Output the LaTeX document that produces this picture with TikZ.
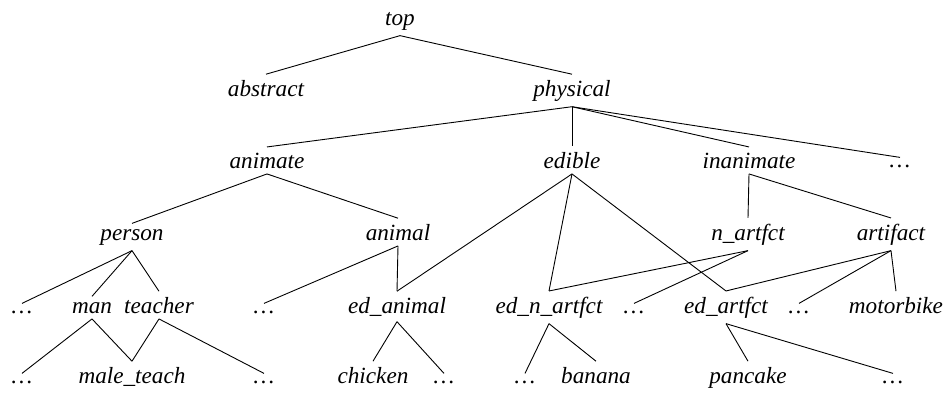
\documentclass[tikz,border=0pt]{standalone}
\usepackage{fontspec}
\setmainfont{Liberation Serif}
\begin{document}
\begin{tikzpicture}[x=1pt,y=-1pt,
  w/.style={font=\fontsize{23.2}{28}\selectfont\itshape, anchor=base, inner sep=5.5pt},
  d/.style={w, inner ysep=7pt},
  edge/.style={line width=0.9pt}]
\useasboundingbox (0,0) rectangle (946,392);
% row 0
\node[w] (top) at (400,25) {top};
% row 1
\node[w] (abstract) at (266,96) {abstract};
\node[w] (physical) at (572,96) {physical};
% row 2
\node[w] (animate) at (267,168) {animate};
\node[w] (edible) at (572,168) {edible};
\node[w] (inanimate) at (749,168) {inanimate};
\node[d] (d1) at (900,167) {…};
% row 3
\node[w] (person) at (132,240) {person};
\node[w] (animal) at (398,240) {animal};
\node[w] (nartfct) at (748,240) {n\_artfct};
\node[w] (artifact) at (891,240) {artifact};
% row 4
\node[d] (dA) at (22,313) {…};
\node[w] (man) at (92,313) {man};
\node[w] (teacher) at (159,313) {teacher};
\node[d] (dB) at (264,313) {…};
\node[w] (edanimal) at (397,313) {ed\_animal};
\node[w] (ednartfct) at (549,313) {ed\_n\_artfct};
\node[d] (dC) at (634,313) {…};
\node[w] (edartfct) at (726,313) {ed\_artfct};
\node[d] (dD) at (799,313) {…};
\node[w] (motorbike) at (896,313) {motorbike};
% row 5
\node[d] (dE) at (22,383) {…};
\node[w] (maleteach) at (132,383) {male\_teach};
\node[d] (dF) at (264,383) {…};
\node[w] (chicken) at (373,383) {chicken};
\node[d] (dG) at (444,383) {…};
\node[d] (dH) at (525,383) {…};
\node[w] (banana) at (596,383) {banana};
\node[w] (pancake) at (748,383) {pancake};
\node[d] (dI) at (893,383) {…};
% edges
\draw[edge] (top.south) -- (abstract.north);
\draw[edge] (top.south) -- (physical.north);
\draw[edge] (physical.south) -- (animate.north);
\draw[edge] (physical.south) -- (edible.north);
\draw[edge] (physical.south) -- (inanimate.north);
\draw[edge] (physical.south) -- (d1.north);
\draw[edge] (animate.south) -- (person.north);
\draw[edge] (animate.south) -- (animal.north);
\draw[edge] (edible.south) -- (edanimal.north);
\draw[edge] (edible.south) -- (ednartfct.north);
\draw[edge] (edible.south) -- (edartfct.north);
\draw[edge] (inanimate.south) -- (nartfct.north);
\draw[edge] (inanimate.south) -- (artifact.north);
\draw[edge] (person.south) -- (dA.north);
\draw[edge] (person.south) -- (man.north);
\draw[edge] (person.south) -- (teacher.north);
\draw[edge] (animal.south) -- (dB.north);
\draw[edge] (animal.south) -- (edanimal.north);
\draw[edge] (nartfct.south) -- (ednartfct.north);
\draw[edge] (nartfct.south) -- (dC.north);
\draw[edge] (artifact.south) -- (edartfct.north);
\draw[edge] (artifact.south) -- (dD.north);
\draw[edge] (artifact.south) -- (motorbike.north);
\draw[edge] (man.south) -- (dE.north);
\draw[edge] (man.south) -- (maleteach.north);
\draw[edge] (teacher.south) -- (maleteach.north);
\draw[edge] (teacher.south) -- (dF.north);
\draw[edge] (edanimal.south) -- (chicken.north);
\draw[edge] (edanimal.south) -- (dG.north);
\draw[edge] (ednartfct.south) -- (dH.north);
\draw[edge] (ednartfct.south) -- (banana.north);
\draw[edge] (edartfct.south) -- (pancake.north);
\draw[edge] (edartfct.south) -- (dI.north);
\end{tikzpicture}
\end{document}
